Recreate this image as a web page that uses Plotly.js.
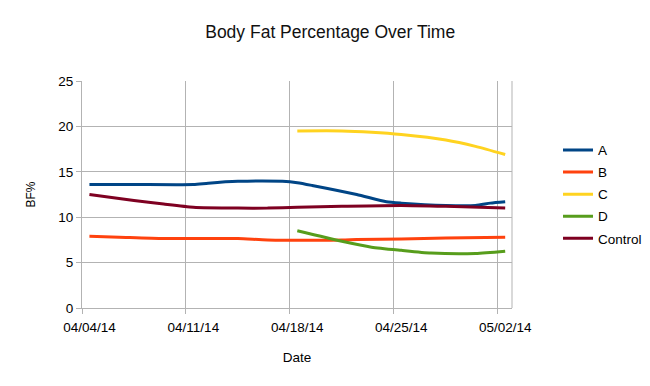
<!DOCTYPE html>
<html>
<head>
<meta charset="utf-8">
<script src="https://cdn.plot.ly/plotly-3.0.1.min.js"></script>
<style>html,body{margin:0;padding:0;background:#fff}#chart{width:650px;height:386px}</style>
</head>
<body>
<div id="chart"></div>
<script>
const datesA = ['2014-04-04','2014-04-07','2014-04-11','2014-04-12','2014-04-14','2014-04-17','2014-04-18','2014-04-19','2014-04-22','2014-04-24','2014-04-25','2014-04-28','2014-04-30','2014-05-01','2014-05-02'];
const valuesA = [13.6,13.6,13.6,13.75,13.95,13.95,13.8,13.5,12.5,11.7,11.55,11.3,11.3,11.55,11.7];

const datesB = ['2014-04-04','2014-04-06','2014-04-09','2014-04-14','2014-04-16','2014-04-21','2014-04-22','2014-04-25','2014-04-28','2014-05-02'];
const valuesB = [7.9,7.8,7.65,7.65,7.5,7.5,7.55,7.6,7.7,7.8];

const datesC = ['2014-04-18','2014-04-21','2014-04-23','2014-04-25','2014-04-28','2014-04-30','2014-05-02'];
const valuesC = [19.5,19.5,19.35,19.1,18.5,17.8,16.9];

const datesD = ['2014-04-18','2014-04-21','2014-04-23','2014-04-25','2014-04-27','2014-04-30','2014-05-02'];
const valuesD = [8.5,7.35,6.7,6.35,6.05,6.0,6.25];

const datesCtrl = ['2014-04-04','2014-04-07','2014-04-09','2014-04-11','2014-04-14','2014-04-16','2014-04-18','2014-04-21','2014-04-25','2014-04-28','2014-05-02'];
const valuesCtrl = [12.5,11.85,11.45,11.1,11.0,11.0,11.1,11.2,11.3,11.2,11.0];

const seriesNames = ['A','B','C','D','Control'];
const seriesColors = ['#004586','#ff420e','#ffd320','#579d1c','#7e0021'];

const tickDates = ['2014-04-04','2014-04-11','2014-04-18','2014-04-25','2014-05-02'];
const tickLabels = ['04/04/14','04/11/14','04/18/14','04/25/14','05/02/14'];

const noon = d => d.map(s => s + ' 12:00');
const allDates = [datesA, datesB, datesC, datesD, datesCtrl];
const allValues = [valuesA, valuesB, valuesC, valuesD, valuesCtrl];

const traces = seriesNames.map((n, i) => ({
  type: 'scatter', mode: 'lines', name: n, legendgroup: n,
  x: noon(allDates[i]), y: allValues[i],
  line: {color: seriesColors[i], width: 3, shape: 'spline', smoothing: 0.6}
}));

const layout = {
  width: 650, height: 386,
  margin: {l: 82, r: 138, t: 81, b: 78, autoexpand: false},
  paper_bgcolor: '#fff', plot_bgcolor: '#fff',
  font: {family: '"Liberation Sans", Arial, sans-serif', size: 13.5, color: '#000'},
  title: {text: 'Body Fat Percentage Over Time', font: {size: 17.5, color: '#111'}, x: 0.508, xanchor: 'center', y: 0.918, yanchor: 'middle'},
  xaxis: {
    type: 'date', range: ['2014-04-04', '2014-05-02 23:00'],
    tickvals: noon(tickDates), ticktext: tickLabels,
    showgrid: false, ticks: '', ticklabelstandoff: 7,
    minor: {tick0: '2014-04-04', dtick: 7 * 86400000, showgrid: true, gridcolor: '#b3b3b3', gridwidth: 1, ticks: 'outside', ticklen: 5, tickcolor: '#b3b3b3'},
    showline: true, linecolor: '#b3b3b3', mirror: false,
    zeroline: false,
    title: {text: 'Date', font: {size: 13.5}, standoff: 18}
  },
  yaxis: {
    range: [0, 25], dtick: 5,
    showgrid: true, gridcolor: '#b3b3b3', gridwidth: 1,
    showline: true, linecolor: '#b3b3b3',
    ticks: 'outside', ticklen: 5, tickcolor: '#b3b3b3',
    zeroline: false,
    title: {text: 'BF%', font: {size: 12}, standoff: 20}
  },
  shapes: [{type: 'line', xref: 'paper', yref: 'paper', x0: 1, x1: 1, y0: 0, y1: 1, line: {color: '#b3b3b3', width: 1}}],
  showlegend: true,
  legend: {x: 1.107, xanchor: 'left', y: 0.763, yanchor: 'top', traceorder: 'grouped', tracegroupgap: 1.5, font: {size: 13.5}, itemwidth: 30, bgcolor: 'rgba(0,0,0,0)'}
};

Plotly.newPlot('chart', traces, layout, {displayModeBar: false, staticPlot: true});
</script>
</body>
</html>
